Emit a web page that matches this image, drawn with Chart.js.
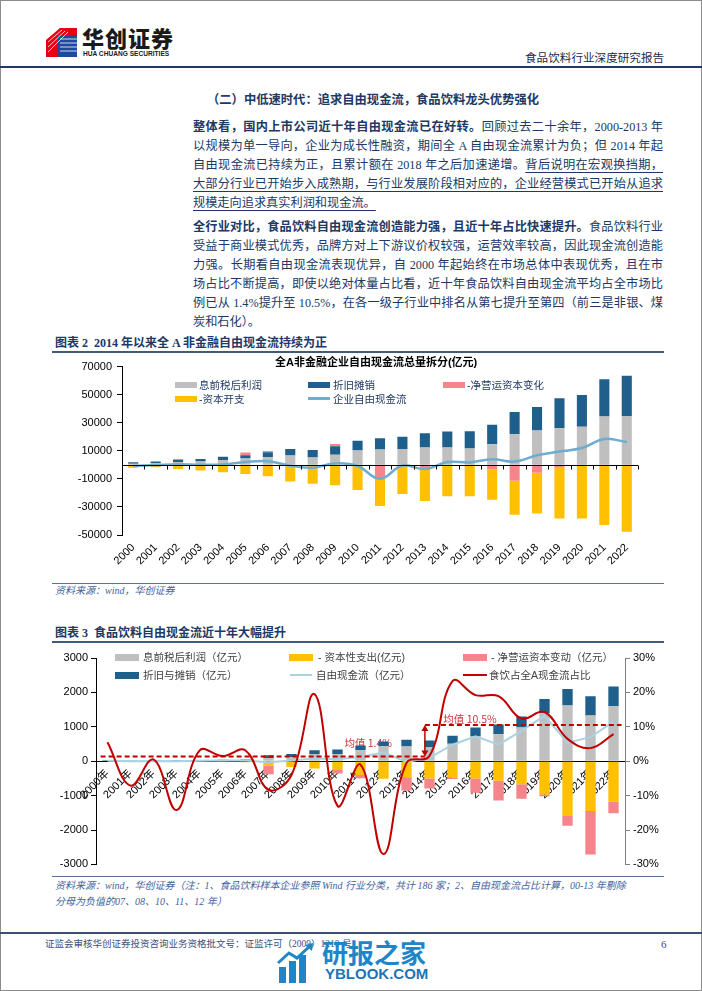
<!DOCTYPE html>
<html lang="zh-CN">
<head>
<meta charset="utf-8">
<title>食品饮料行业深度研究报告</title>
<script src="https://cdn.jsdelivr.net/npm/chart.js@4.4.1/dist/chart.umd.min.js"></script>
<style>
  html, body { margin: 0; padding: 0; background: #fff; }
  body { width: 702px; height: 991px; position: relative; overflow: hidden;
         font-family: "Liberation Serif", "Noto Sans CJK SC", serif; color: #203864; }
  .abs { position: absolute; white-space: nowrap; }
  .frame { position: absolute; left: 0; top: 0; width: 700px; height: 989px; border: 1px solid #8c8c8c; }
  .rule { position: absolute; }
  .para { position: absolute; left: 193px; width: 470px; font-size: 12.2px; }
  .para div { height: 19px; line-height: 19px; text-align: justify; text-align-last: justify; }
  .para div.last { text-align-last: left; }
  .para u { text-decoration-color: #203864; text-underline-offset: 3px; }
  .fig-title { font-size: 12px; font-weight: 700; line-height: 16px; }
  .source { font-size: 10px; font-style: italic; color: #44629a; line-height: 14px; }
  .sw { position: absolute; }
  .lt { position: absolute; white-space: nowrap; font-family: "Liberation Sans", "Noto Sans CJK SC", sans-serif;
        font-size: 10.5px; line-height: 14px; }
  canvas { position: absolute; }
</style>
</head>
<body>
<div class="frame"></div>

<!-- 页眉 -->
<svg class="abs" style="left:46px;top:26px" width="32" height="32" viewBox="0 0 32 32">
  <polygon points="0,14 14,2 31,2 31,9 12,9 12,31 0,31" fill="#E60012"/>
  <rect x="12" y="9" width="19" height="22" fill="#1D4A9A"/>
  <g stroke="#fff" stroke-width="0.8">
    <line x1="2" y1="16" x2="16" y2="4"/><line x1="2" y1="21" x2="19" y2="5"/><line x1="2" y1="26" x2="22" y2="6"/>
    <line x1="14" y1="13" x2="31" y2="13"/><line x1="14" y1="17" x2="31" y2="17"/><line x1="14" y1="21" x2="31" y2="21"/>
    <line x1="14" y1="25" x2="31" y2="25"/>
  </g>
</svg>
<div class="abs" style="left:82px;top:23px;font-family:'Noto Sans CJK SC';font-weight:900;font-size:22px;line-height:28px;color:#1a1a1a;letter-spacing:1px">华创证券</div>
<div class="abs" style="left:83px;top:50px;font-family:'Liberation Sans';font-weight:700;font-size:6.6px;line-height:8px;color:#1a1a1a">HUA CHUANG SECURITIES</div>
<div class="abs" style="left:525px;top:49px;font-family:'Noto Sans CJK SC';font-size:11.6px;line-height:16px;color:#1a2a4a">食品饮料行业深度研究报告</div>
<div class="rule" style="left:0;top:66px;width:702px;height:2px;background:#1f3864"></div>

<!-- 正文 -->
<div class="abs" style="left:207px;top:90px;font-family:'Noto Sans CJK SC';font-size:12.3px;font-weight:700;line-height:18px">（二）中低速时代：追求自由现金流，食品饮料龙头优势强化</div>

<div class="para" style="top:117.5px">
  <div><b>整体看，国内上市公司近十年自由现金流已在好转。</b>回顾过去二十余年，2000-2013 年</div>
  <div>以规模为单一导向，企业为成长性融资，期间全 A 自由现金流累计为负；但 2014 年起</div>
  <div>自由现金流已持续为正，且累计额在 2018 年之后加速递增。<u>背后说明在宏观换挡期，</u></div>
  <div><u>大部分行业已开始步入成熟期，与行业发展阶段相对应的，企业经营模式已开始从追求</u></div>
  <div class="last"><u>规模走向追求真实利润和现金流。</u></div>
</div>

<div class="para" style="top:217.5px">
  <div><b>全行业对比，食品饮料自由现金流创造能力强，且近十年占比快速提升。</b>食品饮料行业</div>
  <div>受益于商业模式优秀，品牌方对上下游议价权较强，运营效率较高，因此现金流创造能</div>
  <div>力强。长期看自由现金流表现优异，自 2000 年起始终在市场总体中表现优秀，且在市</div>
  <div>场占比不断提高，即使以绝对体量占比看，近十年食品饮料自由现金流平均占全市场比</div>
  <div>例已从 1.4%提升至 10.5%，在各一级子行业中排名从第七提升至第四（前三是非银、煤</div>
  <div class="last">炭和石化）。</div>
</div>

<!-- 图表 2 -->
<div class="abs fig-title" style="left:55px;top:335px">图表 2&nbsp; 2014 年以来全 A 非金融自由现金流持续为正</div>
<div class="rule" style="left:52px;top:351px;width:612px;height:1.5px;background:#44597e"></div>
<canvas id="chartA" width="612" height="228" style="left:52px;top:355px"></canvas>
<div class="abs" style="left:275px;top:355px;font-family:'Liberation Sans','Noto Sans CJK SC';font-weight:700;font-size:11px;line-height:14px;color:#000">全A非金融企业自由现金流总量拆分(亿元)</div>

<div class="sw" style="left:175px;top:382px;width:22px;height:6px;background:#BFBFBF"></div>
<div class="lt" style="left:199px;top:378px">息前税后利润</div>
<div class="sw" style="left:308px;top:382px;width:22px;height:6px;background:#1F5F8B"></div>
<div class="lt" style="left:333px;top:378px">折旧摊销</div>
<div class="sw" style="left:443px;top:382px;width:22px;height:6px;background:#F4868B"></div>
<div class="lt" style="left:467px;top:378px">-净营运资本变化</div>
<div class="sw" style="left:175px;top:395.5px;width:22px;height:6px;background:#FFC000"></div>
<div class="lt" style="left:199px;top:391.5px">-资本开支</div>
<div class="sw" style="left:308px;top:397px;width:22px;height:3px;background:#6EADD0"></div>
<div class="lt" style="left:333px;top:391.5px">企业自由现金流</div>

<div class="rule" style="left:52px;top:583px;width:612px;height:1px;background:#5b7396"></div>
<div class="abs source" style="left:55px;top:584px">资料来源：wind，华创证券</div>

<!-- 图表 3 -->
<div class="abs fig-title" style="left:55px;top:625px">图表 3&nbsp; 食品饮料自由现金流近十年大幅提升</div>
<div class="rule" style="left:52px;top:641px;width:612px;height:1.5px;background:#44597e"></div>
<canvas id="chartB" width="612" height="226" style="left:52px;top:648px"></canvas>

<div class="sw" style="left:115px;top:653.5px;width:24px;height:7px;background:#BFBFBF"></div>
<div class="lt" style="left:143px;top:650px;color:#404040">息前税后利润（亿元）</div>
<div class="sw" style="left:289px;top:653.5px;width:24px;height:7px;background:#FFC000"></div>
<div class="lt" style="left:318px;top:650px;color:#404040">- 资本性支出(亿元)</div>
<div class="sw" style="left:463px;top:653.5px;width:24px;height:7px;background:#F4868B"></div>
<div class="lt" style="left:491px;top:650px;color:#404040">- 净营运资本变动（亿元）</div>
<div class="sw" style="left:115px;top:671.5px;width:24px;height:7px;background:#1F5F8B"></div>
<div class="lt" style="left:143px;top:668px;color:#404040">折旧与摊销（亿元）</div>
<div class="sw" style="left:290px;top:673.8px;width:22px;height:2.5px;background:#A9D2E3"></div>
<div class="lt" style="left:316px;top:668px;color:#404040">自由现金流（亿元）</div>
<div class="sw" style="left:463px;top:673.8px;width:24px;height:2.5px;background:#C00000"></div>
<div class="lt" style="left:489px;top:668px;color:#404040">食饮占全A现金流占比</div>

<div class="rule" style="left:52px;top:876px;width:612px;height:1px;background:#5b7396"></div>
<div class="abs source" style="left:55px;top:879px">资料来源：wind，华创证券（注：1、食品饮料样本企业参照 Wind 行业分类，共计 186 家；2、自由现金流占比计算，00-13 年剔除</div>
<div class="abs source" style="left:55px;top:895px">分母为负值的07、08、10、11、12 年）</div>

<!-- 页脚 -->
<div class="rule" style="left:0;top:932px;width:702px;height:2px;background:#3b5070"></div>
<div class="abs" style="left:45px;top:937px;font-size:9.5px;line-height:14px;color:#3b4f7a">证监会审核华创证券投资咨询业务资格批文号：证监许可（2009）1210 号</div>
<div class="abs" style="left:661px;top:937px;font-size:11px;line-height:14px;color:#3b4f7a">6</div>

<svg class="abs" style="left:277px;top:943px" width="40" height="40" viewBox="0 0 40 40">
  <rect x="2" y="24" width="7" height="16" fill="#1e86c8"/>
  <rect x="12" y="18" width="7" height="22" fill="#1e86c8"/>
  <rect x="22" y="12" width="7" height="28" fill="#1e86c8"/>
  <polyline points="1,20 12,10 20,15 34,2" fill="none" stroke="#1e86c8" stroke-width="3"/>
  <polygon points="36,0 28,2 35,8" fill="#1e86c8"/>
</svg>
<div class="abs" style="left:322px;top:936px;font-family:'Noto Sans CJK SC';font-weight:700;font-size:26px;line-height:32px;color:#1e86c8">研报之家</div>
<div class="abs" style="left:325px;top:965px;font-family:'Liberation Sans';font-weight:700;font-size:15px;line-height:18px;color:#1e74b6">YBLOOK.COM</div>

<script>
// ---- 图表 2：全A非金融企业自由现金流总量拆分（亿元）----
const yearsA = ['2000', '2001', '2002', '2003', '2004', '2005', '2006', '2007', '2008', '2009', '2010', '2011',
                '2012', '2013', '2014', '2015', '2016', '2017', '2018', '2019', '2020', '2021', '2022'];
const ebiatA = [800, 1200, 2000, 2300, 3500, 4600, 5500, 6700, 5300, 7100, 10300, 11000,
                11200, 12400, 12400, 11600, 14600, 21800, 24400, 26000, 27100, 34500, 34800];
const daA    = [1000, 1100, 1400, 1800, 2200, 2300, 3500, 4600, 5300, 6200, 6900, 8000,
                8800, 10100, 11300, 12300, 14000, 15800, 16900, 21400, 22600, 26400, 28600];
const nwcA   = [0, 0, 800, 0, 0, 1800, 900, 0, 0, 1600, 0, -10100,
                0, -3600, 0, 0, -3400, -11300, -5600, -2000, -600, -500, -500];
const capexA = [-2000, -1800, -3000, -4100, -5200, -6600, -8100, -11800, -13400, -14600, -18000, -19300,
                -20800, -22200, -22400, -22400, -21500, -24200, -29100, -36200, -37600, -42300, -47100];
const fcfA   = [-900, -200, 500, 0, 300, 2000, 2600, -600, -2000, 1000, -800, -10000,
                -500, -3000, 2000, 1700, 4000, 2300, 6800, 9500, 12000, 18400, 16200];

// ---- 图表 3：食品饮料自由现金流（亿元）与占全A比例（%）----
const yearsB = ['2000年', '2001年', '2002年', '2003年', '2004年', '2005年', '2006年', '2007年', '2008年', '2009年',
                '2010年', '2011年', '2012年', '2013年', '2014年', '2015年', '2016年', '2017年', '2018年',
                '2019年', '2020年', '2021年', '2022年'];
const ebiatB = [10, 10, 12, 15, 20, 25, 30, 95, 115, 210, 210, 320, 435, 430, 410, 505, 720, 780, 980, 1400, 1620, 1330, 1600];
const daB    = [20, 12, 10, 12, 12, 15, 20, 75, 95, 105, 130, 140, 135, 190, 190, 235, 260, 290, 320, 410, 480, 560, 570];
const capexB = [-15, -10, -10, -12, -20, -25, -30, -135, -170, -210, -255, -400, -510, -470, -500, -475, -500, -570, -670, -970, -1590, -1450, -1180];
const nwcB   = [0, 0, 0, 0, 0, 0, 0, -245, 0, 0, -100, -95, 0, -380, -290, -40, -420, -570, -420, -50, -290, -1260, -330];
const fcfB   = [10, -5, 5, -5, 10, 20, 20, -30, 20, 80, 60, 120, 250, -20, 100, 480, 720, 480, 880, 1320, 540, 700, 1150];
const shareB = [5.5, -7.1, 0.5, -14.2, 3.1, 1.5, 3.1, -8.3, -4, 19.5, -13, -1, -27, -0.5, 1.5, 23.3, 19.2, 18.9, 12.4, 14.3, 6.5, 3.8, 7.9];
const MEAN_EARLY = 1.4;   // 2000-2013 均值
const MEAN_LATE = 10.5;   // 2014-2022 均值

const GRAY = '#BFBFBF', NAVY = '#1F5F8B', PINK = '#F4868B', GOLD = '#FFC000';

Chart.defaults.font.family = "'Liberation Sans', 'Noto Sans CJK SC', sans-serif";
Chart.defaults.font.size = 11;
Chart.defaults.color = '#000';

// 类别轴上的小数位置 -> 像素
function xAt(scale, pos) {
    const i = Math.floor(pos);
    const a = scale.getPixelForValue(i);
    const b = scale.getPixelForValue(i + 1);
    return a + (b - a) * (pos - i);
}

// 图表2 的零轴和刻度
const zeroAxisA = {
    id: 'zeroAxisA',
    afterDatasetsDraw(chart) {
        const { ctx, chartArea, scales } = chart;
        const y0 = Math.round(scales.y.getPixelForValue(0)) + 0.5;
        ctx.save();
        ctx.strokeStyle = '#000';
        ctx.lineWidth = 1;
        ctx.beginPath();
        ctx.moveTo(chartArea.left, y0);
        ctx.lineTo(chartArea.right, y0);
        for (let i = 0; i <= yearsA.length; i++) {
            const px = Math.round(xAt(scales.x, i - 0.5)) + 0.5;
            ctx.moveTo(px, y0);
            ctx.lineTo(px, y0 + 4);
        }
        ctx.stroke();
        ctx.restore();
    }
};

// 图表3 的均值虚线、箭头和标注
const meanMarks = {
    id: 'meanMarks',
    beforeDatasetsDraw(chart) {
        const { ctx, scales: { x, y1 } } = chart;
        ctx.save();
        ctx.fillStyle = '#C8363A';
        ctx.font = "10.5px 'Noto Sans CJK SC', 'Liberation Sans'";
        ctx.textBaseline = 'middle';
        ctx.fillText('均值 ' + MEAN_EARLY + '%', xAt(x, 10.3), y1.getPixelForValue(5.4));
        ctx.fillText('均值 ' + MEAN_LATE + '%', xAt(x, 14.6), y1.getPixelForValue(12.4));
        ctx.restore();
    },
    afterDatasetsDraw(chart) {
        const { ctx, scales: { x, y1 } } = chart;
        const xa = xAt(x, 13.8);
        const yLow = y1.getPixelForValue(MEAN_EARLY);
        const yHigh = y1.getPixelForValue(MEAN_LATE);
        ctx.save();
        ctx.strokeStyle = '#C00000';
        ctx.lineWidth = 2;
        ctx.setLineDash([5, 3]);
        ctx.beginPath();
        ctx.moveTo(xAt(x, -0.3), yLow);
        ctx.lineTo(xa, yLow);
        ctx.moveTo(xa, yHigh);
        ctx.lineTo(xAt(x, 22.35), yHigh);
        ctx.stroke();

        ctx.setLineDash([]);
        ctx.lineWidth = 1.5;
        ctx.beginPath();
        ctx.moveTo(xa, yLow - 4);
        ctx.lineTo(xa, yHigh + 4);
        ctx.stroke();
        ctx.fillStyle = '#C00000';
        ctx.beginPath();
        ctx.moveTo(xa, yHigh);
        ctx.lineTo(xa - 3.5, yHigh + 6);
        ctx.lineTo(xa + 3.5, yHigh + 6);
        ctx.closePath();
        ctx.moveTo(xa, yLow);
        ctx.lineTo(xa - 3.5, yLow - 6);
        ctx.lineTo(xa + 3.5, yLow - 6);
        ctx.closePath();
        ctx.fill();
        ctx.restore();
    }
};

const barStyle = { stack: 'bars', barPercentage: 0.45, categoryPercentage: 1, borderWidth: 0 };

new Chart(document.getElementById('chartA'), {
    type: 'bar',
    data: {
        labels: yearsA,
        datasets: [
            { ...barStyle, label: '息前税后利润', data: ebiatA, backgroundColor: GRAY, order: 2 },
            { ...barStyle, label: '折旧摊销', data: daA, backgroundColor: NAVY, order: 2 },
            { ...barStyle, label: '-净营运资本变化', data: nwcA, backgroundColor: PINK, order: 2 },
            { ...barStyle, label: '-资本开支', data: capexA, backgroundColor: GOLD, order: 2 },
            {
                type: 'line', label: '企业自由现金流', data: fcfA, stack: 'fcf', order: 1,
                borderColor: '#6EADD0', borderWidth: 2.5, pointRadius: 0, tension: 0.4
            }
        ]
    },
    options: {
        responsive: false,
        animation: false,
        devicePixelRatio: 1,
        layout: { padding: { top: 6, right: 26, left: 0, bottom: 0 } },
        plugins: { legend: { display: false }, tooltip: { enabled: false } },
        scales: {
            x: {
                stacked: true,
                grid: { display: false, drawTicks: false },
                border: { display: false },
                ticks: { minRotation: 45, maxRotation: 45, autoSkip: false, padding: 6, font: { size: 11 } },
                afterFit: (s) => { s.height = 48; }
            },
            y: {
                stacked: true,
                min: -50000,
                max: 70000,
                ticks: { stepSize: 20000, padding: 5, callback: (v) => String(v) },
                grid: { drawOnChartArea: false, color: '#000', tickLength: 5 },
                border: { color: '#000' },
                afterFit: (s) => { s.width = 70; }
            }
        }
    },
    plugins: [zeroAxisA]
});

new Chart(document.getElementById('chartB'), {
    type: 'bar',
    data: {
        labels: yearsB,
        datasets: [
            { ...barStyle, label: '息前税后利润（亿元）', data: ebiatB, backgroundColor: GRAY, order: 3, yAxisID: 'y' },
            { ...barStyle, label: '折旧与摊销（亿元）', data: daB, backgroundColor: NAVY, order: 3, yAxisID: 'y' },
            { ...barStyle, label: '- 资本性支出(亿元)', data: capexB, backgroundColor: GOLD, order: 3, yAxisID: 'y' },
            { ...barStyle, label: '- 净营运资本变动（亿元）', data: nwcB, backgroundColor: PINK, order: 3, yAxisID: 'y' },
            {
                type: 'line', label: '自由现金流（亿元）', data: fcfB, stack: 'fcf', order: 2, yAxisID: 'y',
                borderColor: '#A9D2E3', borderWidth: 2, pointRadius: 0, tension: 0
            },
            {
                type: 'line', label: '食饮占全A现金流占比', data: shareB, order: 1, yAxisID: 'y1',
                borderColor: '#C00000', borderWidth: 2, pointRadius: 0, tension: 0.4
            }
        ]
    },
    options: {
        responsive: false,
        animation: false,
        devicePixelRatio: 1,
        layout: { padding: { top: 10, right: 0, left: 0, bottom: 6 } },
        plugins: { legend: { display: false }, tooltip: { enabled: false } },
        scales: {
            x: {
                stacked: true,
                position: { y: 0 },
                z: 1,
                grid: { display: false, drawTicks: false },
                border: { color: '#000' },
                ticks: { minRotation: 45, maxRotation: 45, autoSkip: false, padding: 6, font: { size: 11 } }
            },
            y: {
                stacked: true,
                position: 'left',
                min: -3000,
                max: 3000,
                ticks: { stepSize: 1000, padding: 3, callback: (v) => String(v) },
                grid: { drawOnChartArea: false, color: '#000', tickLength: 5 },
                border: { color: '#000' },
                afterFit: (s) => { s.width = 44; }
            },
            y1: {
                position: 'right',
                min: -30,
                max: 30,
                ticks: { stepSize: 10, padding: 3, callback: (v) => v + '%' },
                grid: { drawOnChartArea: false, color: '#7f7f7f', tickLength: 5 },
                border: { color: '#7f7f7f' },
                afterFit: (s) => { s.width = 39; }
            }
        }
    },
    plugins: [meanMarks]
});
</script>
</body>
</html>
